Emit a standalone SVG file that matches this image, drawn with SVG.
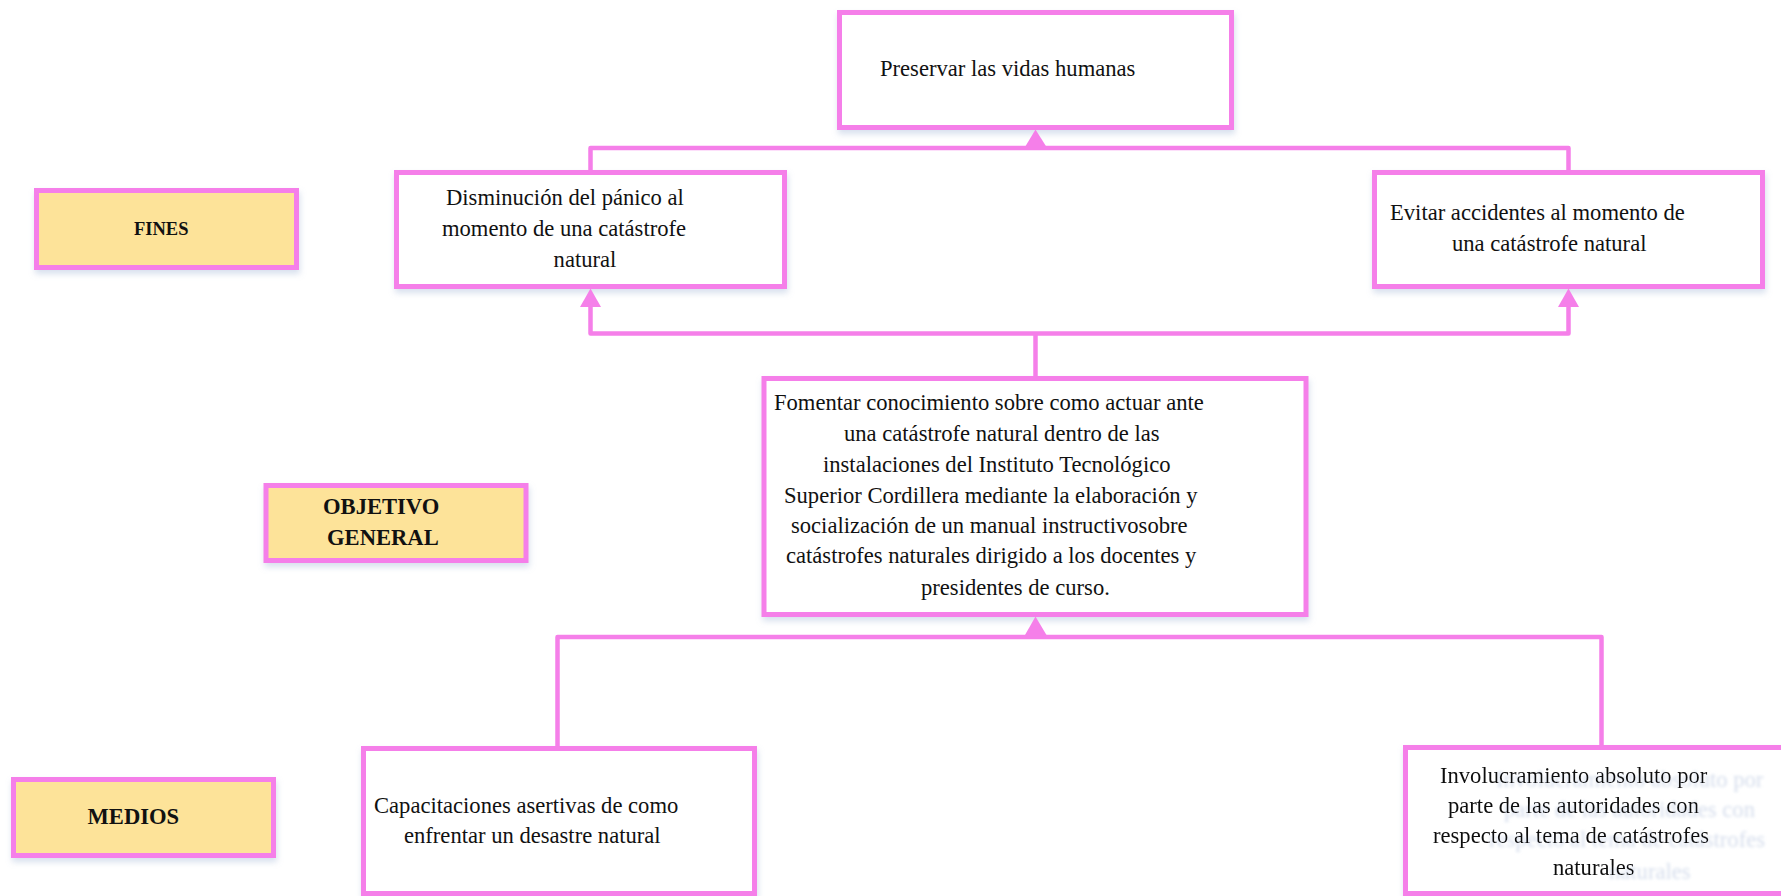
<svg xmlns="http://www.w3.org/2000/svg" width="1781" height="896" viewBox="0 0 1781 896">
  <defs>
    <filter id="boxShadow" x="-10%" y="-10%" width="120%" height="130%">
      <feDropShadow dx="1" dy="4" stdDeviation="3" flood-color="#8ea6cf" flood-opacity="0.35"/>
    </filter>
    <!-- soft far-offset text shadow -->
    <filter id="textShadow" x="-5%" y="-20%" width="140%" height="150%">
      <feGaussianBlur in="SourceAlpha" stdDeviation="1.6" result="blur"/>
      <feOffset in="blur" dx="56" dy="4" result="moved"/>
      <feFlood flood-color="#cdd6e8" flood-opacity="0.85"/>
      <feComposite in2="moved" operator="in" result="shade"/>
      <feMerge>
        <feMergeNode in="shade"/>
        <feMergeNode in="SourceGraphic"/>
      </feMerge>
    </filter>
  </defs>
  <style>
    .box { fill: #ffffff; stroke: #f57fe9; stroke-width: 5; }
    .label { fill: #fde399; stroke: #f57fe9; stroke-width: 5; }
    .t { font-family: "Liberation Serif", "Times New Roman", serif; font-size: 22.6px; fill: #111111; }
    .b { font-family: "Liberation Serif", "Times New Roman", serif; font-size: 22.6px; font-weight: bold; fill: #111111; }
    .wire { fill: none; stroke: #f57fe9; stroke-width: 4.5; stroke-linejoin: round; stroke-linecap: butt; }
    .head { fill: #f57fe9; }
  </style>
  <rect width="1781" height="896" fill="#ffffff"/>

  <!-- row labels -->
  <g id="label-fines">
    <rect class="label" x="36.5" y="190.5" width="260" height="77" filter="url(#boxShadow)"/>
    <text class="b" x="134" y="235" style="font-size:18.5px">FINES</text>
  </g>
  <g id="label-objetivo">
    <rect class="label" x="266" y="485.5" width="260" height="75" filter="url(#boxShadow)"/>
    <text class="b" x="323" y="514">OBJETIVO</text>
    <text class="b" x="327" y="545">GENERAL</text>
  </g>
  <g id="label-medios">
    <rect class="label" x="13.5" y="779.5" width="260" height="76" filter="url(#boxShadow)"/>
    <text class="b" x="87.5" y="824">MEDIOS</text>
  </g>

  <!-- end goal -->
  <g id="fin-superior">
    <rect class="box" x="839.5" y="12.5" width="392" height="115" filter="url(#boxShadow)"/>
    <text class="t" x="880" y="76">Preservar las vidas humanas</text>
  </g>

  <!-- ends -->
  <g id="fin-panico">
    <rect class="box" x="396.5" y="172.5" width="388" height="114" filter="url(#boxShadow)"/>
    <text class="t" x="446" y="205">Disminución del pánico al</text>
    <text class="t" x="442" y="236">momento de una catástrofe</text>
    <text class="t" x="553.6" y="267">natural</text>
  </g>
  <g id="fin-accidentes">
    <rect class="box" x="1374.5" y="172.5" width="388" height="114" filter="url(#boxShadow)"/>
    <text class="t" x="1390" y="220">Evitar accidentes al momento de</text>
    <text class="t" x="1452" y="251">una catástrofe natural</text>
  </g>

  <!-- general objective -->
  <g id="objetivo-general">
    <rect class="box" x="764" y="378.5" width="542" height="236" filter="url(#boxShadow)"/>
    <text class="t" x="774" y="410">Fomentar conocimiento sobre como actuar ante</text>
    <text class="t" x="844" y="441">una catástrofe natural dentro de las</text>
    <text class="t" x="823" y="472">instalaciones del Instituto Tecnológico</text>
    <text class="t" x="784" y="503">Superior Cordillera mediante la elaboración y</text>
    <text class="t" x="791" y="533">socialización de un manual instructivosobre</text>
    <text class="t" x="786" y="563">catástrofes naturales dirigido a los docentes y</text>
    <text class="t" x="921" y="595">presidentes de curso.</text>
  </g>

  <!-- means -->
  <g id="medio-capacitaciones">
    <rect class="box" x="363.5" y="748.5" width="391" height="145" filter="url(#boxShadow)"/>
    <text class="t" x="374" y="813">Capacitaciones asertivas de como</text>
    <text class="t" x="404" y="843">enfrentar un desastre natural</text>
  </g>
  <g id="medio-involucramiento">
    <rect class="box" x="1405.5" y="747.5" width="400" height="146" filter="url(#boxShadow)"/>
    <g filter="url(#textShadow)">
      <text class="t" x="1440" y="783">Involucramiento absoluto por</text>
      <text class="t" x="1448" y="813">parte de las autoridades con</text>
      <text class="t" x="1433" y="843">respecto al tema de catástrofes</text>
      <text class="t" x="1553" y="875">naturales</text>
    </g>
  </g>

  <!-- connectors -->
  <g id="connectors">
    <!-- ends to end goal -->
    <path class="wire" d="M590.5 172 V148 H1568.5 V172"/>
    <polygon class="head" points="1035.5,129.5 1025,147 1046.5,147"/>
    <!-- objective to ends -->
    <path class="wire" d="M590.5 306 V333.5 H1568.5 V306"/>
    <path class="wire" d="M1035.5 333.5 V377"/>
    <polygon class="head" points="590.5,288.5 580,307 601,307"/>
    <polygon class="head" points="1568.5,288.5 1558,307 1579,307"/>
    <!-- means to objective -->
    <path class="wire" d="M557.5 747 V637 H1601.5 V746"/>
    <polygon class="head" points="1035.5,616.5 1025,635 1046.5,635"/>
  </g>
</svg>
